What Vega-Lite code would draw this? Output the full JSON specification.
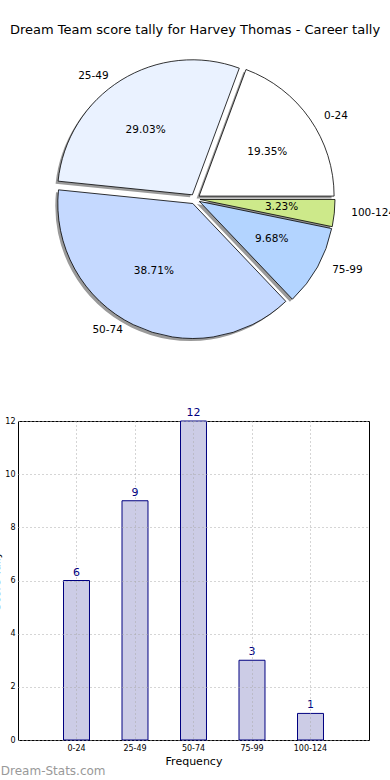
{
  "$schema": "https://vega.github.io/schema/vega-lite/v6.json",
  "padding": {"left": -10, "top": 24, "right": 5, "bottom": 5},
  "config": {"font": "DejaVu Sans", "view": {"stroke": "black"}},
  "datasets": {
    "tally": [
      {"range": "0-24", "count": 6, "idx": 0, "pct": "19.35%"},
      {"range": "25-49", "count": 9, "idx": 1, "pct": "29.03%"},
      {"range": "50-74", "count": 12, "idx": 2, "pct": "38.71%"},
      {"range": "75-99", "count": 3, "idx": 3, "pct": "9.68%"},
      {"range": "100-124", "count": 1, "idx": 4, "pct": "3.23%"}
    ]
  },
  "spacing": 57,
  "vconcat": [
    {
      "width": 354,
      "height": 300,
      "view": {"stroke": null},
      "title": {"text": "Dream Team score tally for Harvey Thomas - Career tally", "fontSize": 13, "fontWeight": "normal", "anchor": "middle", "color": "black", "offset": 12, "frame": "group"},
      "data": {"name": "tally"},
      "encoding": {
        "theta": {"field": "count", "type": "quantitative", "stack": true, "scale": {"range": [1.5708, -4.7124]}},
        "order": {"field": "idx", "type": "quantitative"}
      },
      "layer": [
        {"mark": {"type": "arc", "outerRadius": 135, "fill": "#9a9a9a", "xOffset": 1.6, "yOffset": -0.4}, "encoding": {"opacity": {"condition": {"test": "datum.idx === 0", "value": 1}, "value": 0}}},
        {"mark": {"type": "arc", "outerRadius": 135, "fill": "#9a9a9a", "xOffset": -5.1, "yOffset": -1.7}, "encoding": {"opacity": {"condition": {"test": "datum.idx === 1", "value": 1}, "value": 0}}},
        {"mark": {"type": "arc", "outerRadius": 135, "fill": "#9a9a9a", "xOffset": -4.7, "yOffset": 7.0}, "encoding": {"opacity": {"condition": {"test": "datum.idx === 2", "value": 1}, "value": 0}}},
        {"mark": {"type": "arc", "outerRadius": 135, "fill": "#9a9a9a", "xOffset": 1.9, "yOffset": 4.9}, "encoding": {"opacity": {"condition": {"test": "datum.idx === 3", "value": 1}, "value": 0}}},
        {"mark": {"type": "arc", "outerRadius": 135, "fill": "#9a9a9a", "xOffset": 2.5, "yOffset": 3.0}, "encoding": {"opacity": {"condition": {"test": "datum.idx === 4", "value": 1}, "value": 0}}},
        {"mark": {"type": "arc", "outerRadius": 135, "fill": "#ffffff", "stroke": "black", "strokeWidth": 0.8, "xOffset": 4.1, "yOffset": -2.9}, "encoding": {"opacity": {"condition": {"test": "datum.idx === 0", "value": 1}, "value": 0}}},
        {"mark": {"type": "arc", "outerRadius": 135, "fill": "#eaf2ff", "stroke": "black", "strokeWidth": 0.8, "xOffset": -2.6, "yOffset": -4.2}, "encoding": {"opacity": {"condition": {"test": "datum.idx === 1", "value": 1}, "value": 0}}},
        {"mark": {"type": "arc", "outerRadius": 135, "fill": "#c5d9ff", "stroke": "black", "strokeWidth": 0.8, "xOffset": -2.2, "yOffset": 4.5}, "encoding": {"opacity": {"condition": {"test": "datum.idx === 2", "value": 1}, "value": 0}}},
        {"mark": {"type": "arc", "outerRadius": 135, "fill": "#b3d4ff", "stroke": "black", "strokeWidth": 0.8, "xOffset": 4.4, "yOffset": 2.4}, "encoding": {"opacity": {"condition": {"test": "datum.idx === 3", "value": 1}, "value": 0}}},
        {"mark": {"type": "arc", "outerRadius": 135, "fill": "#cde98a", "stroke": "black", "strokeWidth": 0.8, "xOffset": 5.0, "yOffset": 0.5}, "encoding": {"opacity": {"condition": {"test": "datum.idx === 4", "value": 1}, "value": 0}}},
        {"mark": {"type": "text", "radius": 82, "fontSize": 10.5, "color": "black", "dx": 5, "dy": 0}, "encoding": {"text": {"field": "pct", "type": "nominal"}, "opacity": {"condition": {"test": "datum.idx === 0", "value": 1}, "value": 0}}},
        {"mark": {"type": "text", "radius": 82, "fontSize": 10.5, "color": "black", "dx": -6, "dy": 1}, "encoding": {"text": {"field": "pct", "type": "nominal"}, "opacity": {"condition": {"test": "datum.idx === 1", "value": 1}, "value": 0}}},
        {"mark": {"type": "text", "radius": 82, "fontSize": 10.5, "color": "black", "dx": -5, "dy": -2}, "encoding": {"text": {"field": "pct", "type": "nominal"}, "opacity": {"condition": {"test": "datum.idx === 2", "value": 1}, "value": 0}}},
        {"mark": {"type": "text", "radius": 82, "fontSize": 10.5, "color": "black", "dx": 5, "dy": 0}, "encoding": {"text": {"field": "pct", "type": "nominal"}, "opacity": {"condition": {"test": "datum.idx === 3 || datum.idx === 4", "value": 1}, "value": 0}}},
        {"mark": {"type": "text", "radius": 150, "fontSize": 10.5, "align": "left", "color": "black", "dx": 6, "dy": 3}, "encoding": {"text": {"field": "range", "type": "nominal"}, "opacity": {"condition": {"test": "datum.idx === 0", "value": 1}, "value": 0}}},
        {"mark": {"type": "text", "radius": 150, "fontSize": 10.5, "align": "right", "color": "black", "dx": -7, "dy": 4}, "encoding": {"text": {"field": "range", "type": "nominal"}, "opacity": {"condition": {"test": "datum.idx === 1", "value": 1}, "value": 0}}},
        {"mark": {"type": "text", "radius": 150, "fontSize": 10.5, "align": "right", "color": "black", "dx": -6, "dy": -4}, "encoding": {"text": {"field": "range", "type": "nominal"}, "opacity": {"condition": {"test": "datum.idx === 2", "value": 1}, "value": 0}}},
        {"mark": {"type": "text", "radius": 150, "fontSize": 10.5, "align": "left", "color": "black", "dx": 6, "dy": -2}, "encoding": {"text": {"field": "range", "type": "nominal"}, "opacity": {"condition": {"test": "datum.idx === 3", "value": 1}, "value": 0}}},
        {"mark": {"type": "text", "radius": 150, "fontSize": 10.5, "align": "left", "color": "black", "dx": 7, "dy": -1}, "encoding": {"text": {"field": "range", "type": "nominal"}, "opacity": {"condition": {"test": "datum.idx === 4", "value": 1}, "value": 0}}}
      ]
    },
    {
      "width": 351,
      "height": 319,
      "data": {"name": "tally"},
      "title": {"text": "Dream-Stats.com", "orient": "bottom", "anchor": "start", "frame": "bounds", "color": "#999999", "fontSize": 12, "fontWeight": "normal", "offset": 0, "dx": 10},
      "encoding": {
        "x": {
          "field": "range", "type": "ordinal",
          "sort": ["0-24", "25-49", "50-74", "75-99", "100-124"],
          "scale": {"paddingInner": 0.556, "paddingOuter": 0.778},
          "axis": {"title": "Frequency", "labelAngle": 0, "labelFontSize": 8, "labelPadding": 4, "titleFontSize": 11, "titleFontWeight": "normal", "titlePadding": 3, "ticks": false, "domain": false, "grid": true, "gridDash": [1, 3], "gridColor": "#aaaaaa", "zindex": 1, "labelColor": "black", "titleColor": "black"}
        },
        "y": {
          "field": "count", "type": "quantitative",
          "scale": {"domain": [0, 12], "nice": false},
          "axis": {"title": "Score Tally", "values": [0, 2, 4, 6, 8, 10, 12], "labelFontSize": 8, "labelPadding": 3, "ticks": false, "domain": false, "grid": true, "gridDash": [1, 3], "gridColor": "#aaaaaa", "zindex": 1, "titleFontSize": 11, "titleFontWeight": "normal", "titlePadding": 3, "labelColor": "black", "titleColor": "black"}
        }
      },
      "layer": [
        {"mark": {"type": "bar", "fill": "#ccccE6", "stroke": "#000080", "strokeWidth": 1}},
        {"mark": {"type": "text", "baseline": "bottom", "dy": -3, "fontSize": 11, "color": "#000080"}, "encoding": {"text": {"field": "count", "type": "quantitative"}}}
      ]
    }
  ]
}
